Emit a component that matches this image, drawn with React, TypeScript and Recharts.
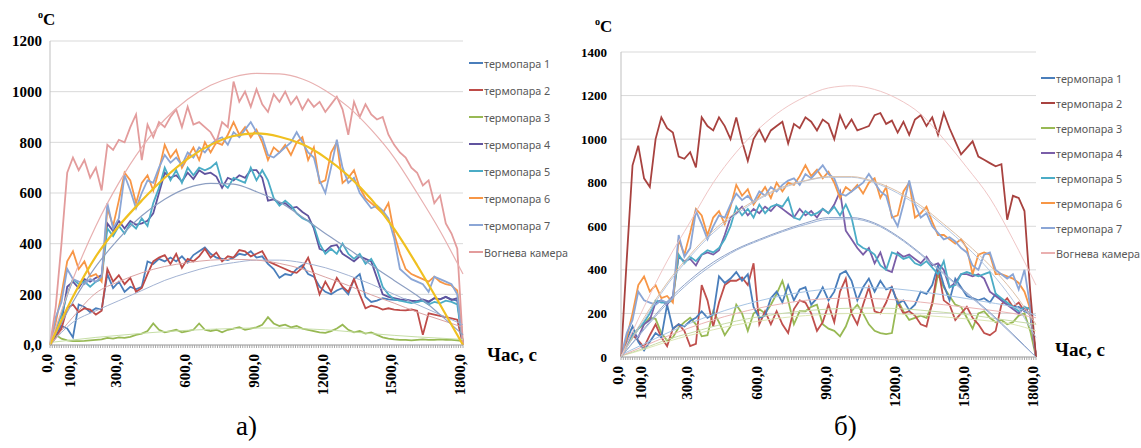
import React from 'react';
import { LineChart, Line, XAxis, YAxis, CartesianGrid } from 'recharts';

const SERIF = '"Liberation Serif", "Times New Roman", serif';
const SANS = '"Noto Sans", "Open Sans", sans-serif';

// time grid for the measured series (every 25 s) and for the trend curves (every 100 s)
const T = Array.from({ length: 73 }, (_, i) => i * 25);
const TT = Array.from({ length: 19 }, (_, i) => i * 100);
// minor tick marks along the time axis, every 10 s
const MINOR = Array.from({ length: 181 }, (_, i) => i * 10);
const X_MAJOR = [0, 100, 300, 600, 900, 1200, 1500, 1800];
const X_LABELS = ['0,0', '100,0', '300,0', '600,0', '900,0', '1200,0', '1500,0', '1800,0'];

const Y_TICKS_A = [0, 200, 400, 600, 800, 1000, 1200];
const Y_LABELS_A = ['0,0', '200', '400', '600', '800', '1000', '1200'];
const Y_TICKS_B = [0, 200, 400, 600, 800, 1000, 1200, 1400];
const Y_LABELS_B = ['0', '200', '400', '600', '800', '1000', '1200', '1400'];

const NAMES = ['термопара 1', 'термопара 2', 'термопара 3', 'термопара 4', 'термопара 5', 'термопара 6', 'термопара 7', 'Вогнева камера'];

// ---- experiment а) ----
const t1A = [
  0, 40, 75, 65, 30, 160, 150, 130, 145, 140,
  280, 225, 250, 210, 230, 220, 230, 330, 320, 340,
  330, 345, 330, 350, 325, 355, 370, 385, 360, 345,
  340, 335, 345, 360, 355, 370, 345, 350, 320, 300,
  265, 280, 275, 300, 315, 280, 270, 230, 210, 200,
  215, 225, 200, 260, 280, 190, 170, 175, 185, 180,
  178, 176, 180, 172, 170, 175, 168, 185, 180, 190,
  180, 175, 0,
];
const t2A = [
  0, 30, 65, 145, 160, 130, 145, 140, 120, 135,
  300, 250, 275, 240, 265, 210, 225, 280, 330, 345,
  355, 320, 360, 305, 340, 330, 350, 380, 345, 365,
  330, 350, 345, 375, 370, 350, 360, 370, 330, 320,
  310, 300, 290, 285, 305, 345, 280, 200, 250, 210,
  265, 230, 210, 260, 200, 145, 155, 150, 140, 145,
  140, 138, 137, 140, 135, 40, 125, 120, 115, 110,
  105, 100, 0,
];
const t3A = [
  0, 40, 25, 18, 15, 15, 16, 18, 20, 22,
  28, 25, 30, 28, 32, 40, 45, 55, 85, 60,
  50, 55, 60, 50, 55, 60, 85, 60, 55, 60,
  50, 60, 65, 70, 60, 65, 70, 80, 110, 85,
  75, 80, 70, 75, 65, 60, 55, 50, 48, 55,
  65, 80, 60, 50, 55, 45, 50, 40, 30, 25,
  22, 20, 20, 18, 20, 22, 20, 20, 22, 20,
  20, 18, 15,
];
const t4A = [
  0, 40, 90, 230, 250, 225, 260, 250, 265, 275,
  480, 450, 490, 460, 490, 475, 480, 490, 520, 600,
  680, 660, 670, 645, 680, 655, 690, 675, 680, 665,
  620, 660, 650, 670, 660, 690, 690, 660, 570, 575,
  560, 560, 540, 545, 525, 510, 460, 380, 370, 390,
  395, 360, 345, 330, 350, 340, 330, 265, 200, 190,
  185, 180, 178, 175, 173, 180, 172, 185, 180, 190,
  178, 185, 0,
];
const t5A = [
  0, 60, 120, 200, 260, 240, 250, 230, 250, 260,
  460, 430, 470, 440, 480, 460, 500, 470, 560, 620,
  700, 650, 690, 640, 700, 670, 700, 690, 700, 720,
  640, 620, 660, 650, 640, 700, 650, 690, 650, 580,
  550, 570, 550, 520, 500, 490, 470, 400, 360, 380,
  360, 400, 360, 340, 360, 320, 340, 300, 230, 200,
  180, 175, 170, 165, 170, 175, 160, 170, 165, 175,
  170, 160, 0,
];
const t6A = [
  0, 90, 200, 330, 370, 300, 330, 270, 280, 250,
  540, 470, 570, 680, 650, 560, 640, 670, 610, 690,
  790, 740, 770, 700, 740, 780, 730, 800, 760, 800,
  790, 830, 880, 830, 860, 820, 850, 800, 730, 780,
  760, 790, 750, 800, 820, 730, 780, 640, 650, 760,
  800, 640, 660, 690, 620, 580, 560, 540, 520, 560,
  440, 360, 300, 280, 270, 260, 250, 270, 250, 240,
  235, 215, 0,
];
const t7A = [
  0, 110, 170, 300, 260, 250, 240, 260, 250, 270,
  560, 460, 500, 670, 610, 540, 600, 650, 640, 700,
  750, 720, 740, 710, 760, 740, 780, 760, 790, 810,
  820, 790, 840, 820, 850, 880, 840, 820, 750, 740,
  760, 780, 800, 840, 800, 760, 740, 650, 600, 700,
  810, 700, 640, 660, 600, 570, 540, 550, 530, 500,
  420, 300, 280, 260, 250, 240, 210, 270, 260, 250,
  240, 200, 0,
];
const camA = [
  0, 150, 400, 680, 740, 690, 730, 660, 700, 610,
  790, 770, 810, 800, 860, 910, 730, 870, 820, 880,
  860, 900, 930, 860, 940, 870, 880, 860, 840, 800,
  880, 860, 1040, 960, 1000, 940, 1010, 950, 920, 990,
  960, 1000, 950, 980, 930, 970, 940, 960, 920, 950,
  980, 930, 830, 960, 900, 950, 910, 890, 900, 830,
  790, 760, 740, 700, 680, 630, 650, 560, 590, 480,
  440, 380, 0,
];

// polynomial trend curves, sampled every 100 s
const camTrendA = [0, 260, 470, 640, 780, 890, 970, 1025, 1058, 1072, 1070, 1050, 1005, 940, 850, 740, 600, 450, 280];
const t6TrendA = [0, 190, 350, 470, 570, 660, 735, 790, 825, 835, 822, 792, 740, 668, 575, 458, 315, 160, 0];
const t4TrendA = [0, 170, 310, 420, 510, 575, 620, 638, 635, 605, 565, 505, 440, 380, 316, 255, 195, 120, 40];
const t1TrendA = [0, 90, 135, 175, 215, 255, 285, 310, 325, 335, 335, 325, 305, 275, 240, 200, 160, 120, 80];
const t2TrendA = [0, 110, 205, 250, 285, 310, 325, 335, 338, 335, 322, 300, 268, 235, 198, 165, 130, 100, 70];
const t3TrendA = [10, 20, 30, 38, 46, 53, 58, 62, 65, 67, 67, 64, 60, 53, 45, 38, 32, 27, 22];

// ---- experiment б) ----
const t1B = [
  0, 80, 140, 70, 30, 70, 110, 90, 240, 130,
  150, 140, 165, 180, 210, 180, 195, 370, 340, 360,
  390, 350, 380, 230, 180, 190, 270, 300, 250, 330,
  260, 310, 320, 240, 270, 320, 260, 300, 380, 395,
  350, 260, 320, 360, 300, 350, 310, 320, 245, 260,
  215, 240, 300, 290, 330, 420, 330, 260, 360, 320,
  280, 270, 260, 270, 250, 290, 260, 240, 230, 230,
  210, 200, 0,
];
const t2B = [
  0, 450, 880, 970, 820, 780, 1000, 1100, 1050, 1030,
  920, 910, 940, 870, 1100, 1060, 1040, 1100, 1060, 1000,
  1100, 990, 900, 1000, 1045, 990, 1040, 1060, 1080, 980,
  1070, 1050, 1100, 1080, 1040, 1090, 1070, 1000, 1110, 1050,
  1090, 1040, 1050, 1060, 1110, 1120, 1070, 1085, 1030, 1080,
  1020, 1090, 1110, 1060, 1100, 1020, 1120, 1050, 990, 930,
  960, 990, 920, 905, 890, 875, 885, 630, 740, 730,
  670, 300, 0,
];
const r2B = [
  0, 60, 100, 75, 45, 100, 150, 90, 50, 130,
  150, 120, 50, 60, 330, 260, 140, 250, 330, 350,
  350, 365, 330, 430, 150, 210, 150, 210, 150, 110,
  220, 260, 250, 200, 120, 160, 240, 160, 300, 360,
  200, 150, 240, 320, 210, 200, 250, 320, 250, 200,
  210, 190, 150, 140, 250, 410, 260, 240, 170, 200,
  230, 180, 150, 110, 100, 120, 240, 270, 230, 250,
  210, 230, 0,
];
const t3B = [
  0, 50, 90, 130, 150, 180, 175, 110, 75, 90,
  135, 160, 180, 150, 95, 100, 210, 160, 100, 140,
  240, 200, 120, 200, 220, 200, 240, 290, 350, 260,
  150, 210, 210, 230, 240, 150, 130, 120, 95, 140,
  210, 240, 200, 150, 120, 110, 105, 110, 260, 210,
  170, 180, 190, 180, 240, 380, 320, 280, 240, 230,
  180, 130, 200, 210, 180, 160, 170, 150, 160, 190,
  200, 120, 0,
];
const t4B = [
  0, 60, 110, 90, 150, 170, 250, 260, 240, 280,
  460, 440, 450, 420, 470, 480, 470, 490, 560, 640,
  660, 690, 650, 680, 660, 690, 670, 700, 680, 660,
  640, 680, 650, 670, 640, 680, 660, 700, 760, 580,
  540, 500, 470, 500, 430, 480, 400, 390, 480, 460,
  470, 450, 430, 460, 420, 430, 400, 320, 340, 380,
  380, 370, 380, 360, 300, 280, 260, 240, 220, 200,
  230, 190, 0,
];
const t5B = [
  0, 50, 100, 130, 160, 200, 260, 250, 250, 260,
  470, 430, 460, 440, 470, 490, 480, 500, 540, 600,
  690, 650, 680, 640, 700, 660, 690, 700, 690, 730,
  640, 630, 670, 650, 660, 680, 660, 690, 650, 700,
  640, 520, 500, 490, 470, 420, 400, 480, 470, 450,
  460, 430, 420, 440, 410, 380, 440, 320, 330, 380,
  390, 380, 370, 380, 390, 290, 270, 250, 230, 210,
  230, 220, 0,
];
const t6B = [
  0, 90, 200, 330, 370, 300, 330, 270, 280, 250,
  540, 470, 570, 680, 650, 560, 640, 670, 610, 690,
  790, 740, 770, 700, 740, 780, 730, 800, 760, 800,
  790, 830, 880, 830, 860, 820, 850, 800, 730, 780,
  760, 790, 750, 800, 820, 730, 780, 640, 650, 760,
  800, 640, 660, 690, 620, 560, 560, 540, 520, 540,
  500, 380, 470, 480, 470, 380, 380, 370, 360, 340,
  300, 220, 0,
];
const t7B = [
  0, 110, 170, 300, 260, 250, 240, 260, 250, 270,
  560, 460, 500, 670, 610, 540, 600, 650, 640, 700,
  750, 720, 740, 710, 760, 740, 780, 760, 790, 810,
  820, 790, 840, 820, 850, 880, 840, 820, 750, 740,
  760, 780, 800, 840, 800, 760, 740, 650, 600, 700,
  810, 700, 640, 660, 600, 570, 540, 550, 530, 500,
  480, 420, 400, 470, 480, 400, 380, 360, 380, 310,
  400, 230, 0,
];

const camTrendB = [0, 230, 440, 620, 800, 940, 1050, 1135, 1195, 1235, 1245, 1228, 1185, 1115, 1000, 870, 730, 540, 330];
const t6TrendB = [0, 180, 340, 470, 580, 665, 730, 780, 810, 828, 828, 805, 760, 695, 610, 520, 420, 300, 150];
const t7TrendB = [0, 170, 330, 460, 570, 655, 725, 775, 808, 825, 825, 800, 752, 685, 600, 505, 395, 260, 90];
const t4TrendB = [0, 130, 255, 355, 435, 495, 540, 580, 615, 640, 640, 615, 555, 475, 385, 295, 205, 105, 0];
const t5TrendB = [0, 125, 245, 345, 425, 490, 535, 575, 608, 632, 634, 610, 550, 470, 380, 290, 200, 100, 0];
const t1TrendB = [10, 60, 110, 155, 195, 230, 258, 282, 300, 312, 318, 318, 312, 300, 285, 268, 250, 230, 190];
const r2TrendB = [5, 50, 95, 135, 170, 200, 225, 245, 260, 268, 270, 268, 262, 252, 240, 228, 215, 200, 180];
const t3TrendB = [5, 40, 80, 110, 140, 165, 185, 200, 212, 220, 224, 225, 222, 215, 205, 195, 180, 165, 150];
const t3bTrendB = [5, 35, 70, 100, 125, 148, 165, 180, 190, 196, 200, 200, 198, 192, 184, 175, 165, 150, 120];

const COLORS_A = ['#4a7ebb', '#be4b48', '#98b954', '#60539e', '#4bacc6', '#f79646', '#8ba6d6', '#e39c9c'];
const COLORS_B = ['#4a7ebb', '#a8423f', '#98b954', '#7a5ea8', '#4bacc6', '#f79646', '#8ba6d6', '#eab0b0'];

type Series = { key: string; color: string; values: number[] };
type Trend = { key: string; color: string; width: number; values: number[] };

const seriesA: Series[] = [
  { key: 't1', color: COLORS_A[0], values: t1A },
  { key: 't2', color: COLORS_A[1], values: t2A },
  { key: 't3', color: COLORS_A[2], values: t3A },
  { key: 't4', color: COLORS_A[3], values: t4A },
  { key: 't5', color: COLORS_A[4], values: t5A },
  { key: 't6', color: COLORS_A[5], values: t6A },
  { key: 't7', color: COLORS_A[6], values: t7A },
  { key: 'cam', color: COLORS_A[7], values: camA },
];
const trendsA: Trend[] = [
  { key: 'tr3', color: '#c6dea6', width: 1, values: t3TrendA },
  { key: 'tr1', color: '#a3b3d3', width: 1, values: t1TrendA },
  { key: 'tr2', color: '#dba3a3', width: 1, values: t2TrendA },
  { key: 'tr4', color: '#8d9fc2', width: 1.2, values: t4TrendA },
  { key: 'trc', color: '#e8b0b0', width: 1.2, values: camTrendA },
  { key: 'tr6', color: '#f0c020', width: 2.2, values: t6TrendA },
];

const seriesB: Series[] = [
  { key: 't3', color: COLORS_B[2], values: t3B },
  { key: 'r2', color: '#c0504d', values: r2B },
  { key: 't1', color: COLORS_B[0], values: t1B },
  { key: 't4', color: COLORS_B[3], values: t4B },
  { key: 't5', color: COLORS_B[4], values: t5B },
  { key: 't6', color: COLORS_B[5], values: t6B },
  { key: 't7', color: COLORS_B[6], values: t7B },
  { key: 't2', color: COLORS_B[1], values: t2B },
];
const trendsB: Trend[] = [
  { key: 'tr3b', color: '#dce6b4', width: 1, values: t3bTrendB },
  { key: 'tr3', color: '#c8dca8', width: 1, values: t3TrendB },
  { key: 'trr', color: '#ebb4b4', width: 1, values: r2TrendB },
  { key: 'tr1', color: '#a6c4e4', width: 1, values: t1TrendB },
  { key: 'tr4', color: '#8ea2c8', width: 1, values: t4TrendB },
  { key: 'tr5', color: '#9db2d6', width: 1, values: t5TrendB },
  { key: 'tr7', color: '#b4c6e0', width: 1, values: t7TrendB },
  { key: 'tr6', color: '#dcc0a8', width: 1, values: t6TrendB },
  { key: 'trc', color: '#f0c6c6', width: 1, values: camTrendB },
];

const buildRows = (series: Series[]) =>
  T.map((t, i) => {
    const row: Record<string, number> = { t };
    series.forEach((s) => (row[s.key] = s.values[i]));
    return row;
  });
const trendRows = (values: number[]) => TT.map((t, i) => ({ t, v: values[i] }));

// only the major ticks get a (rotated) label; the rest are bare tick marks
const XTick = (props: any) => {
  const { x, y, payload } = props;
  const k = X_MAJOR.indexOf(payload.value);
  if (k < 0) return <g />;
  const cx = x - 3;
  return (
    <text
      x={cx}
      y={y}
      dy="0.35em"
      transform={`rotate(-90, ${cx}, ${y})`}
      textAnchor="end"
      fontFamily={SERIF}
      fontWeight="bold"
      fontSize={15}
      fill="#000"
    >
      {X_LABELS[k]}
    </text>
  );
};

type ChartProps = {
  width: number;
  margin: { top: number; right: number; bottom: number; left: number };
  yWidth: number;
  yMax: number;
  yTicks: number[];
  yLabels: string[];
  yFont: number;
  yGap: number;
  series: Series[];
  trends: Trend[];
};

const TempChart = ({ width, margin, yWidth, yMax, yTicks, yLabels, yFont, yGap, series, trends }: ChartProps) => (
  <LineChart width={width} height={448} data={buildRows(series)} margin={margin}>
    <CartesianGrid vertical={false} stroke="#d9d9d9" />
    <XAxis
      dataKey="t"
      type="number"
      domain={[0, 1800]}
      ticks={MINOR}
      interval={0}
      tick={<XTick />}
      tickSize={3}
      tickMargin={6}
      height={60}
      stroke="#a8a8a8"
    />
    <YAxis
      type="number"
      domain={[0, yMax]}
      ticks={yTicks}
      width={yWidth}
      tickLine={false}
      tickMargin={yGap}
      stroke="#bfbfbf"
      tickFormatter={(v: number) => yLabels[yTicks.indexOf(v)]}
      tick={{ fontFamily: SERIF, fontWeight: 'bold', fontSize: yFont, fill: '#000' }}
    />
    {series.map((s) => (
      <Line
        key={s.key}
        type="linear"
        dataKey={s.key}
        stroke={s.color}
        strokeWidth={1.8}
        dot={false}
        activeDot={false}
        isAnimationActive={false}
      />
    ))}
    {trends.map((tr) => (
      <Line
        key={tr.key}
        data={trendRows(tr.values)}
        type="monotone"
        dataKey="v"
        stroke={tr.color}
        strokeWidth={tr.width}
        dot={false}
        activeDot={false}
        isAnimationActive={false}
      />
    ))}
  </LineChart>
);

const LegendBox = ({ left, top, row, colors }: { left: number; top: number; row: number; colors: string[] }) => (
  <div style={{ position: 'absolute', left, top, fontFamily: SANS, fontSize: 10.8, color: '#595959' }}>
    {NAMES.map((n, i) => (
      <div key={n} style={{ height: row, display: 'flex', alignItems: 'center', whiteSpace: 'nowrap' }}>
        <span style={{ display: 'inline-block', width: 14, height: 2, background: colors[i], marginRight: 1 }} />
        {n}
      </div>
    ))}
  </div>
);

const Unit = ({ left, top, size }: { left: number; top: number; size: number }) => (
  <div style={{ position: 'absolute', left, top, fontFamily: SERIF, fontWeight: 'bold', fontSize: size, lineHeight: 1 }}>
    <span style={{ fontSize: size * 0.6, verticalAlign: 'super' }}>o</span>C
  </div>
);

const AxisTitle = ({ left, top }: { left: number; top: number }) => (
  <div style={{ position: 'absolute', left, top, fontFamily: SERIF, fontWeight: 'bold', fontSize: 19, lineHeight: 1 }}>
    Час, с
  </div>
);

const Caption = ({ left, text }: { left: number; text: string }) => (
  <div style={{ position: 'absolute', left, top: 413, fontFamily: SERIF, fontSize: 27, lineHeight: 1 }}>{text}</div>
);

export default function App() {
  return (
    <div style={{ position: 'absolute', left: 0, top: 0, width: 1141, height: 448, background: '#fff', overflow: 'hidden' }}>
      <div style={{ position: 'absolute', left: 0, top: 0 }}>
        <TempChart
          width={570}
          margin={{ top: 41, right: 107, bottom: 43, left: 10 }}
          yWidth={40}
          yMax={1200}
          yTicks={Y_TICKS_A}
          yLabels={Y_LABELS_A}
          yFont={15}
          yGap={2}
          series={seriesA}
          trends={trendsA}
        />
      </div>
      <div style={{ position: 'absolute', left: 570, top: 0 }}>
        <TempChart
          width={571}
          margin={{ top: 52, right: 105, bottom: 31, left: 10 }}
          yWidth={41}
          yMax={1400}
          yTicks={Y_TICKS_B}
          yLabels={Y_LABELS_B}
          yFont={13}
          yGap={8}
          series={seriesB}
          trends={trendsB}
        />
      </div>

      <Unit left={38} top={10} size={17} />
      <Unit left={595} top={17} size={17} />
      <AxisTitle left={487} top={345} />
      <AxisTitle left={1055} top={340} />
      <LegendBox left={469} top={49.5} row={27} colors={COLORS_A} />
      <LegendBox left={1041} top={65.5} row={25} colors={COLORS_B} />
      <Caption left={236} text="а)" />
      <Caption left={834} text="б)" />
    </div>
  );
}
